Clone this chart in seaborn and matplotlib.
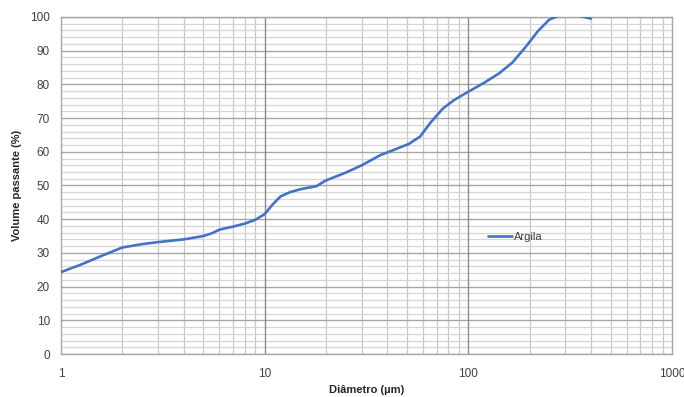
"""Curva granulométrica da argila (volume passante vs diâmetro)."""
import numpy as np
import pandas as pd
import matplotlib
matplotlib.use("Agg")
import matplotlib.pyplot as plt
from matplotlib.ticker import FixedLocator, NullFormatter
import seaborn as sns

# Data
diametro_um = [1, 1.25, 1.55, 2, 2.5, 3, 4, 5, 5.5, 6, 7, 8, 9, 10, 11, 12,
               13.3, 15, 18, 20, 25, 30, 37, 45, 51, 58, 65, 75, 85, 100,
               120, 142, 165, 192, 220, 250, 290, 340, 400]
volume_passante = [24.3, 26.5, 28.9, 31.6, 32.6, 33.2, 34.0, 35.0, 35.8, 36.9,
                   37.8, 38.7, 39.8, 41.5, 44.5, 46.8, 48.0, 48.9, 49.8, 51.5,
                   53.8, 56.0, 59.0, 61.0, 62.3, 64.5, 68.5, 72.8, 75.3, 77.8,
                   80.5, 83.3, 86.5, 91.2, 95.8, 99.2, 100.8, 100.6, 99.5]
serie = "Argila"
x_ticks = [1, 10, 100, 1000]
y_ticks = list(range(0, 101, 10))

df = pd.DataFrame({"Diametro": diametro_um, "Volume": volume_passante, "Serie": serie})

sns.set_theme(style="white")
plt.rcParams['font.family'] = ['Liberation Sans', 'DejaVu Sans']

fig = plt.figure(figsize=(6.84, 3.97), dpi=100)
ax = fig.add_axes([0.0892, 0.1083, 0.893, 0.849])

line_color = "#4472C4"
sns.lineplot(data=df, x="Diametro", y="Volume", hue="Serie", palette=[line_color],
             lw=1.9, sort=False, ax=ax, zorder=3)

ax.set_xscale("log")
ax.set_xlim(1, 1000)
ax.set_ylim(0, 100)

# Gridlines: minor (light) and major (darker), like Excel
minor_x = [m * 10 ** d for d in range(3) for m in range(2, 10)]
ax.xaxis.set_minor_locator(FixedLocator(minor_x))
ax.xaxis.set_minor_formatter(NullFormatter())
ax.yaxis.set_minor_locator(FixedLocator(np.arange(0, 101, 2)))
ax.set_xticks(x_ticks)
ax.set_xticklabels([str(t) for t in x_ticks])
ax.set_yticks(y_ticks)

ax.grid(which="minor", axis="y", color="#D6D6D6", lw=0.9)
ax.grid(which="minor", axis="x", color="#C8C8C8", lw=0.9)
ax.grid(which="major", axis="y", color="#A6A6A6", lw=1.0)
ax.set_axisbelow(True)
# darker decade lines drawn on top of the light grid
for xt in x_ticks[1:-1]:
    ax.axvline(xt, color="#8C8C8C", lw=1.0, zorder=1)

for side, sp in ax.spines.items():
    sp.set_color("#A6A6A6")
    sp.set_linewidth(1.0)

ax.tick_params(which="major", length=4, width=0.8, color="#A6A6A6",
               labelsize=8.5, labelcolor="#404040")
ax.tick_params(which="minor", length=0)
ax.tick_params(axis="x", pad=6)
ax.tick_params(axis="y", pad=4)

ax.set_xlabel("Diâmetro (µm)", fontsize=8, fontweight="bold", color="#262626", labelpad=4)
ax.set_ylabel("Volume passante (%)", fontsize=8, fontweight="bold", color="#262626", labelpad=6)

leg = ax.legend(loc="center left", bbox_to_anchor=(0.69, 0.347), frameon=False,
                fontsize=8, handlelength=2.2, handletextpad=0.1, borderpad=0)
for t in leg.get_texts():
    t.set_color("#404040")

fig.savefig("out.png", dpi=100)
plt.close(fig)
